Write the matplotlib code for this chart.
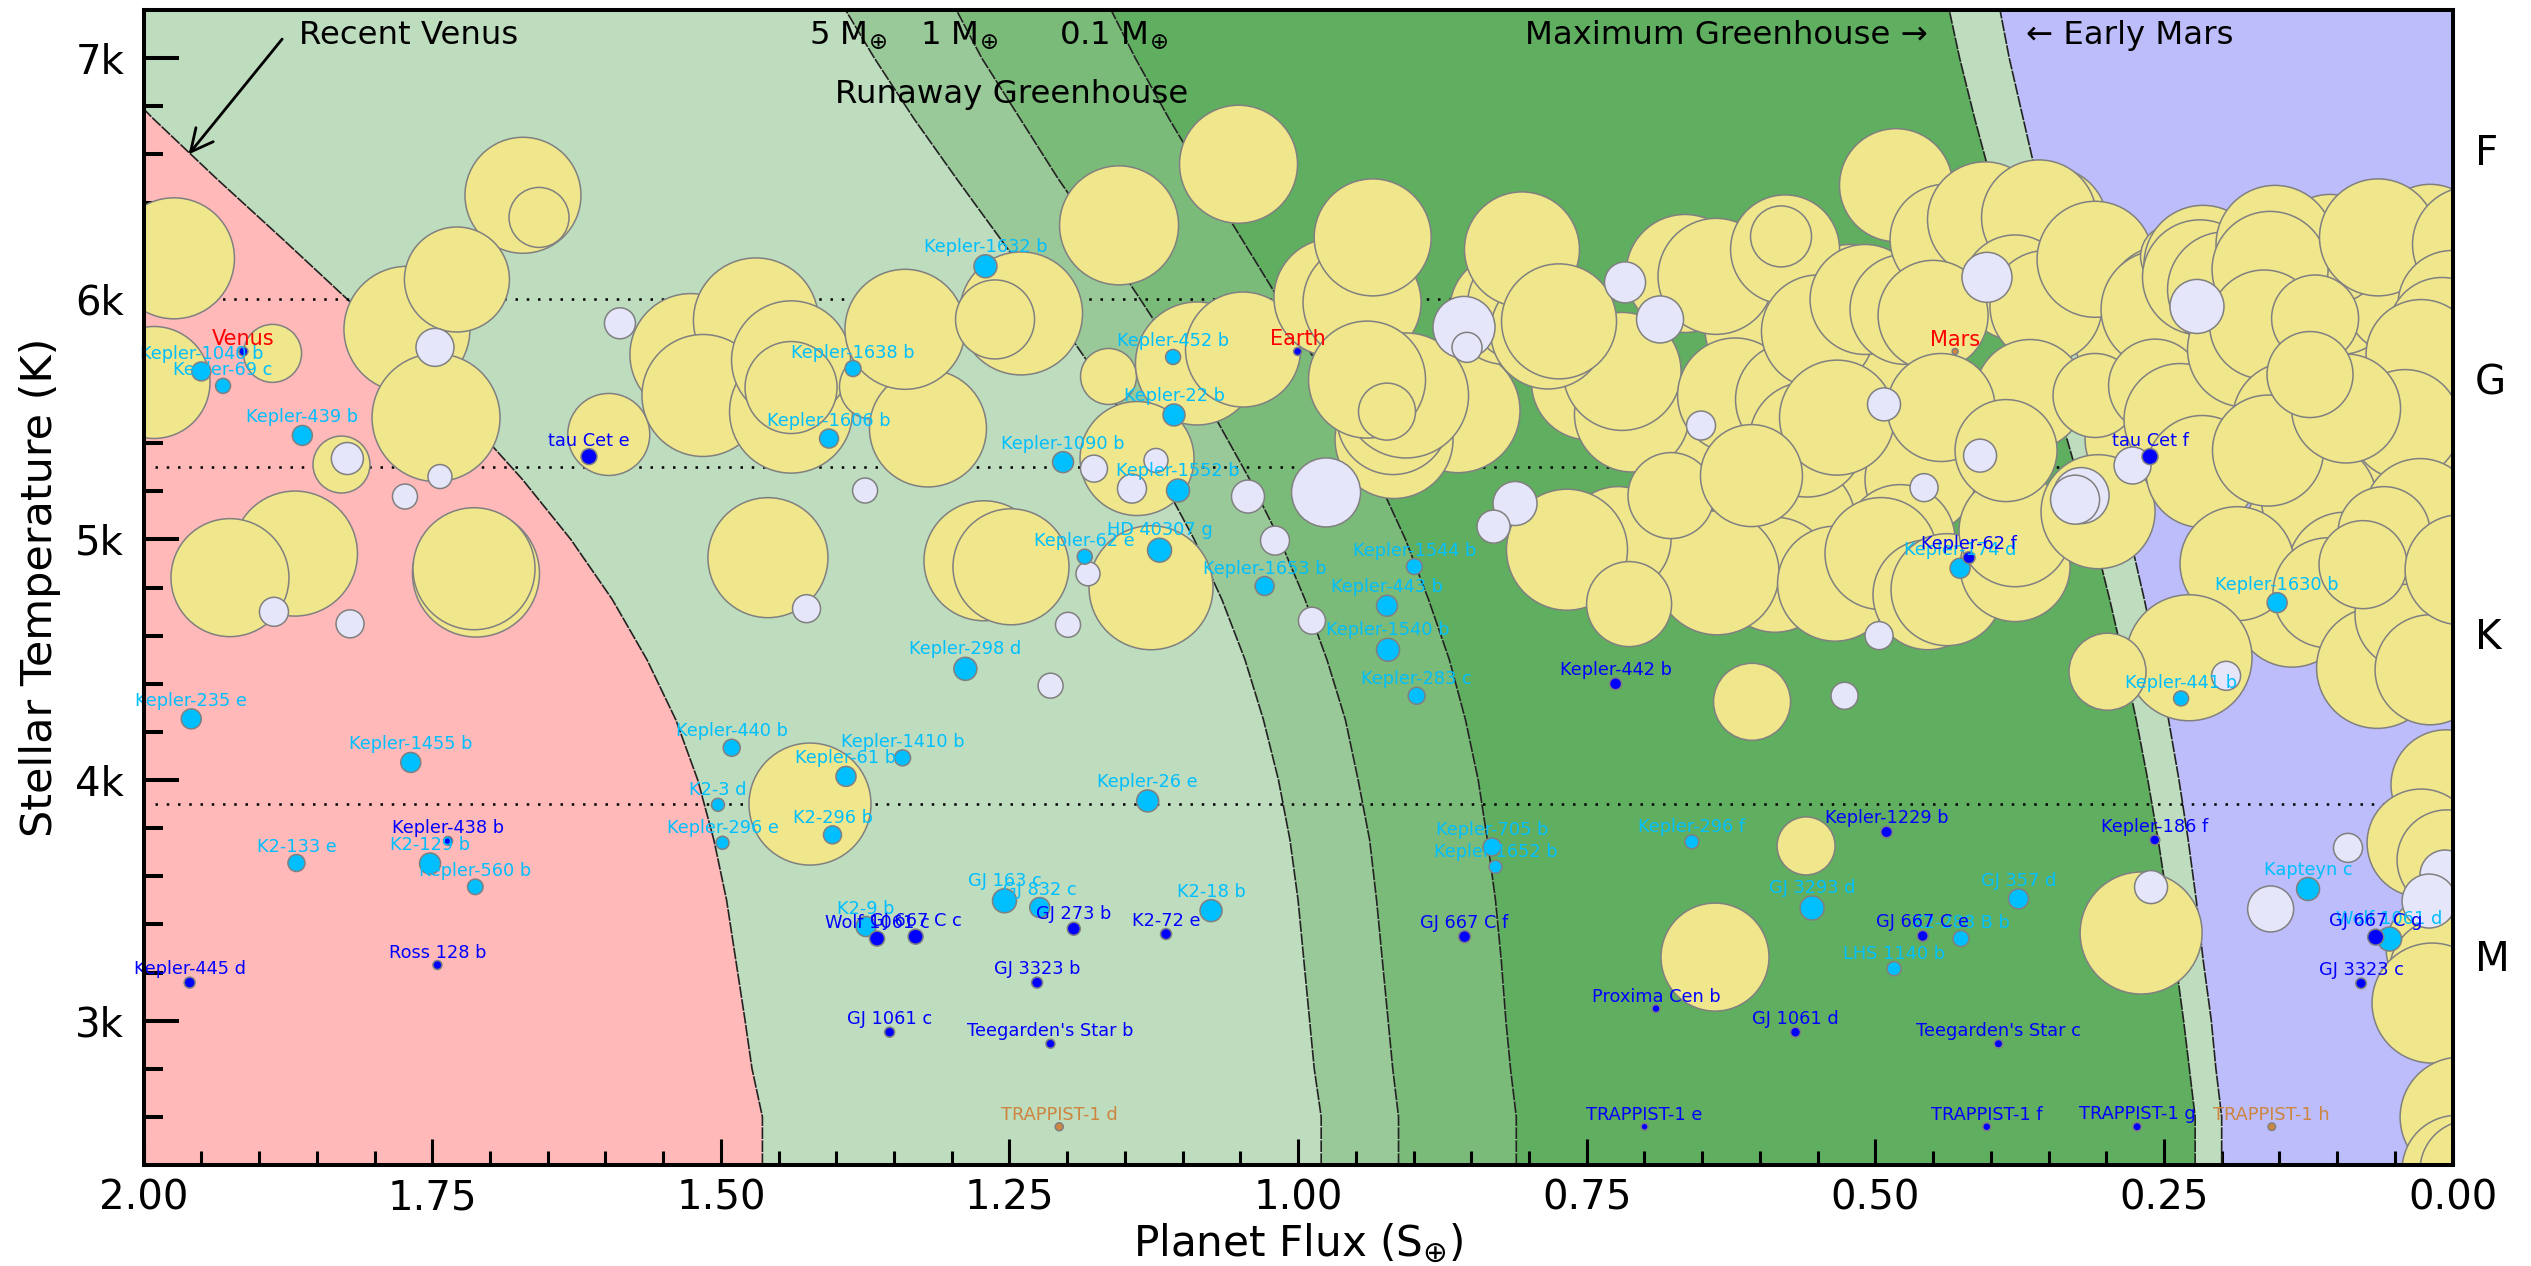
"""Habitable zone chart: planet flux against stellar temperature."""

import matplotlib

matplotlib.use("Agg")
import matplotlib.pyplot as plt

# Zone limits, flux at each stellar temperature
zone_temp = [2400, 2600, 2800, 3000, 3250, 3500, 3750, 4000, 4250, 4500, 4750,
             5000, 5250, 5500, 5750, 6000, 6250, 6500, 6750, 7000, 7200]
recent_venus = [1.464, 1.464, 1.473, 1.479, 1.487, 1.495, 1.506, 1.520, 1.539, 1.564, 1.594,
                1.630, 1.672, 1.719, 1.770, 1.824, 1.880, 1.937, 1.992, 2.043, 2.080]
runaway_5m = [0.980, 0.980, 0.986, 0.990, 0.995, 1.000, 1.007, 1.017, 1.030, 1.046, 1.066,
              1.090, 1.118, 1.149, 1.184, 1.220, 1.258, 1.296, 1.333, 1.367, 1.392]
runaway_1m = [0.913, 0.913, 0.918, 0.922, 0.927, 0.932, 0.938, 0.948, 0.959, 0.975, 0.994,
              1.016, 1.042, 1.071, 1.103, 1.137, 1.172, 1.208, 1.241, 1.274, 1.296]
runaway_01m = [0.811, 0.811, 0.816, 0.820, 0.824, 0.829, 0.836, 0.844, 0.855, 0.869, 0.887,
               0.907, 0.931, 0.957, 0.986, 1.017, 1.049, 1.081, 1.112, 1.141, 1.162]
max_greenhouse = [0.223, 0.223, 0.228, 0.233, 0.240, 0.247, 0.255, 0.264, 0.274, 0.285, 0.297,
                  0.310, 0.324, 0.339, 0.354, 0.370, 0.385, 0.400, 0.414, 0.427, 0.436]
early_mars = [0.200, 0.200, 0.205, 0.209, 0.216, 0.222, 0.229, 0.237, 0.246, 0.256, 0.267,
              0.279, 0.291, 0.305, 0.318, 0.332, 0.346, 0.360, 0.372, 0.384, 0.392]

spectral_temps = [5300, 3900, 6000]
spectral_names = ["F", "G", "K", "M"]
spectral_label_temps = [6600, 5648, 4591, 3251]

# Gas giants and other large planets, back to front
giant_flux = [
    0.0758, 0.0455, 0.0109, 0.0845, 0.0542, 0.0066, 0.1062, 0.0109, 0.0455,
    0.5999, 0.5219, 0.4786, 0.6345, 0.5826, 0.5219, 0.4613, 0.4786, 0.5652, 0.6519, 0.2707,
    0.2794, 0.2188, 0.1495, 0.0975, 0.0455, 0.0802, 0.1321, 0.0195, 0.0282, 0.1062, 0.0195,
    1.9737, 1.9910, 1.8883, 1.6714, 1.6575, 1.7719, 1.7286, 1.7467, 1.8286, 1.8689, 1.9252, 1.7121,
    1.7138, 1.5971, 1.5259, 1.4696, 1.5155, 1.4392, 1.4392, 1.4392, 1.3691, 1.3206, 1.3405, 1.2400,
    1.2625, 1.1551, 1.0516, 1.1642, 1.0876, 1.0477, 1.1395, 1.2721, 1.2487, 1.1274, 1.4592, 1.4228,
    0.9698, 0.9446, 0.9354, 0.8615, 0.9169, 0.9178, 0.9065, 0.9403, 0.9230, 0.8208, 0.8034, 0.7480,
    0.7108, 0.7194, 0.7835, 0.8061, 0.7740, 0.6649, 0.6380, 0.6215, 0.5713, 0.5782, 0.5817, 0.5497,
    0.5592, 0.5332, 0.5869, 0.6371, 0.7229, 0.7671, 0.6770, 0.6073, 0.7133, 0.5349, 0.6068, 0.5089,
    0.4743, 0.4821, 0.4396, 0.4050, 0.3487, 0.3582, 0.3790, 0.3522, 0.4500, 0.3660, 0.4431, 0.3097,
    0.4951, 0.4544, 0.4379, 0.3790, 0.3790, 0.3868, 0.3071, 0.3097, 0.2491, 0.2534, 0.2577, 0.2430,
    0.2162, 0.2188, 0.1971, 0.1538, 0.1581, 0.2361, 0.2170, 0.1798, 0.1633, 0.1408, 0.1157, 0.0932,
    0.1391, 0.1867, 0.1599, 0.1079, 0.2283, 0.2989, 0.0654, 0.0369, 0.0195, 0.0646, -0.0151, 0.0005,
    0.0091, 0.0273, 0.0412, 0.0455, 0.0282, 0.0594, 0.0776, 0.0923, 0.1191, 0.1235, -0.0065, -0.0021,
    0.0057, 0.0273, 0.0048, 0.0100, 0.0074, 0.0178, -0.0065, -0.0038, -0.0151, 0.2698, 0.5600, 0.6389,
]
giant_temp = [
    5831, 5665, 6039, 5498, 5249, 5249, 5873, 4999, 5290,
    5873, 5997, 5581, 5457, 5415, 5165, 5249, 4999, 5082, 5415, 5415,
    5831, 5706, 5789, 5997, 5997, 5249, 5041, 5498, 4749, 6205, 6247,
    6168, 5652, 5773, 6430, 6338, 5873, 6080, 5506, 5311, 4941, 4841, 4858,
    4878, 5436, 5768, 5910, 5598, 5531, 5744, 5631, 5635, 5461, 5873, 5939,
    5914, 6305, 6559, 5677, 5731, 5789, 5336, 4911, 4886, 4799, 4924, 3900,
    6005, 5985, 6255, 5535, 5415, 5502, 5598, 5664, 5531, 5956, 5976, 5652,
    5519, 5698, 5864, 6205, 5906, 6105, 6093, 5598, 5581, 6205, 6259, 5864,
    5415, 5506, 4853, 4861, 4999, 4957, 5182, 5265, 4731, 4816, 4325, 5997,
    5956, 6472, 6247, 6330, 6309, 6338, 6047, 5968, 5931, 5602, 5548, 6164,
    4941, 4770, 4791, 4887, 5036, 5369, 5115, 5598, 5976, 5956, 5639, 6176,
    6143, 6089, 6039, 6226, 6122, 5498, 5282, 5789, 5893, 5498, 5165, 4874,
    4708, 4899, 5369, 4778, 4508, 4450, 4466, 4687, 4458, 6255, 6226, 5976,
    5864, 5768, 5477, 5020, 5103, 5028, 4895, 5544, 5918, 5685, 4874, 3971,
    3980, 3738, 3668, 3302, 3198, 3073, 2599, 2378, 2378, 3364, 3726, 3264,
]
giant_radius = [
    11.0, 11.0, 11.0, 11.0, 11.0, 11.0, 11.0, 11.0, 11.0,
    11.0, 11.0, 11.0, 11.0, 11.0, 11.0, 11.0, 11.0, 11.0, 11.0, 11.0,
    11.0, 11.0, 11.0, 11.0, 11.0, 11.0, 11.0, 11.0, 11.0, 11.0, 11.0,
    12.1, 11.2, 5.8, 11.6, 6.0, 12.6, 10.5, 12.8, 5.7, 12.5, 11.8, 12.7,
    12.2, 8.2, 12.2, 12.5, 12.2, 12.3, 11.9, 9.2, 6.5, 11.7, 12.0, 12.3,
    7.9, 11.9, 11.8, 5.6, 12.3, 11.5, 11.4, 12.0, 11.6, 12.4, 12.0, 12.2,
    11.8, 11.8, 11.7, 12.4, 11.8, 11.2, 12.5, 11.7, 5.7, 11.0, 11.5, 11.5,
    11.5, 11.8, 11.5, 11.5, 11.5, 11.8, 11.6, 11.5, 11.5, 10.9, 6.1, 11.3,
    11.5, 11.5, 11.5, 12.4, 10.6, 12.1, 8.6, 10.2, 8.5, 11.5, 7.7, 11.0,
    11.0, 11.3, 11.0, 11.5, 11.5, 11.5, 10.5, 11.2, 11.0, 11.0, 10.8, 11.6,
    11.2, 11.0, 11.2, 11.0, 11.2, 10.2, 11.4, 8.4, 11.8, 11.8, 9.3, 6.3,
    11.8, 11.5, 11.5, 11.8, 11.6, 11.2, 11.2, 11.5, 10.9, 11.5, 11.5, 11.5,
    11.5, 11.4, 11.1, 11.0, 12.6, 7.7, 12.1, 11.0, 11.0, 11.7, 11.5, 10.8,
    10.8, 11.0, 11.0, 10.0, 11.2, 9.2, 8.8, 10.9, 8.7, 8.6, 11.0, 11.2,
    11.0, 10.8, 10.0, 11.0, 11.0, 12.0, 12.0, 11.0, 10.0, 12.2, 5.8, 10.8,
]

# Neptune sized planets
neptune_flux = [
    1.7476, 1.7433, 1.7736, 1.8235, 1.8871, 1.8212, 1.5874, 1.4258, 1.3751, 1.1768, 1.1439, 1.1231,
    1.1820, 1.1993, 1.2144, 1.0434, 1.0200, 0.9758, 0.9880, 0.8563, 0.8537, 0.7168, 0.6865, 0.8121,
    0.8307, 0.6510, 0.5267, 0.4925, 0.4968, 0.4033, 0.2214, 0.4093, 0.4578, 0.3218, 0.3270, 0.2772,
    0.1962, 0.0906, 0.1576, 0.2612, 0.0066, 0.0204,
]
neptune_temp = [
    5798, 5261, 5178, 5336, 4699, 4649, 5898, 4712, 5203, 5294, 5211, 5328,
    4857, 4645, 4392, 5178, 4995, 5195, 4662, 5881, 5798, 6068, 5914, 5149,
    5053, 5473, 4350, 5561, 4600, 6089, 5968, 5348, 5215, 5182, 5165, 5307,
    4433, 3718, 3464, 3555, 3605, 3497,
]
neptune_radius = [
    3.8, 2.4, 2.5, 3.2, 2.9, 2.8, 3.1, 2.8, 2.5, 2.7, 2.9, 2.4,
    2.4, 2.5, 2.5, 3.3, 2.9, 6.9, 2.7, 6.2, 3.0, 4.1, 4.7, 4.4,
    3.3, 2.9, 2.7, 3.3, 2.8, 5.0, 5.4, 3.3, 2.8, 5.6, 4.9, 3.7,
    2.9, 2.9, 4.6, 3.3, 5.0, 5.4,
]

# Named planets, superterran
super_names = [
    "Kepler-1040 b", "Kepler-69 c", "Kepler-439 b", "Kepler-1638 b", "Kepler-1606 b", "Kepler-1632 b",
    "Kepler-452 b", "Kepler-22 b", "Kepler-1090 b", "Kepler-1552 b", "HD 40307 g", "Kepler-62 e",
    "Kepler-1653 b", "Kepler-1544 b", "Kepler-443 b", "Kepler-1540 b", "Kepler-283 c", "Kepler-298 d",
    "Kepler-1410 b", "Kepler-61 b", "Kepler-440 b", "K2-3 d", "Kepler-296 e", "K2-296 b",
    "Kepler-235 e", "Kepler-1455 b", "K2-133 e", "K2-129 b", "Kepler-560 b", "Kepler-26 e",
    "GJ 163 c", "GJ 832 c", "K2-18 b", "K2-9 b", "Kepler-705 b", "Kepler-1652 b",
    "Kepler-296 f", "GJ 3293 d", "GJ 357 d", "LHS 1140 b", "K2-288 B b", "Kapteyn c",
    "Wolf 1061 d", "Kepler-441 b", "Kepler-1630 b", "Kepler-174 d",
]
super_flux = [
    1.950, 1.9312, 1.8625, 1.3855, 1.4063, 1.2708,
    1.1083, 1.1075, 1.2036, 1.1040, 1.1200, 1.1848,
    1.0290, 0.8993, 0.9230, 0.9221, 0.8973, 1.2882,
    1.3426, 1.3916, 1.4906, 1.5025, 1.4986, 1.4033,
    1.9587, 1.7686, 1.8676, 1.7519, 1.7127, 1.1303,
    1.2543, 1.2238, 1.0754, 1.3743, 0.8320, 0.8290,
    0.6590, 0.5548, 0.3760, 0.4838, 0.4258, 0.1252,
    0.0546, 0.2352, 0.1520, 0.4266,
]
super_temp = [
    5698, 5638, 5432, 5710, 5419, 6135,
    5758, 5517, 5321, 5203, 4955, 4928,
    4806, 4887, 4724, 4541, 4350, 4462,
    4092, 4015, 4134, 3897, 3739, 3772,
    4254, 4073, 3655, 3653, 3556, 3913,
    3498, 3470, 3457, 3391, 3722, 3639,
    3743, 3468, 3506, 3216, 3341, 3547,
    3339, 4339, 4737, 4880,
]
super_radius = [
    1.9, 1.5, 2.0, 1.6, 1.9, 2.3,
    1.5, 2.2, 2.1, 2.3, 2.4, 1.5,
    1.9, 1.6, 2.1, 2.3, 1.7, 2.3,
    1.6, 2.0, 1.7, 1.3, 1.3, 1.8,
    2.0, 2.0, 1.7, 2.1, 1.55, 2.2,
    2.4, 2.0, 2.2, 2.0, 1.8, 1.3,
    1.4, 2.4, 2.0, 1.4, 1.6, 2.3,
    2.4, 1.5, 2.0, 2.0,
]

# Named planets, terran
terran_names = [
    "tau Cet e", "tau Cet f", "Kepler-62 f", "Kepler-442 b", "Kepler-1229 b", "Kepler-186 f",
    "Kepler-438 b", "Ross 128 b", "Kepler-445 d", "GJ 1061 c", "GJ 3323 b", "Teegarden's Star b",
    "GJ 273 b", "K2-72 e", "Wolf 1061 c", "GJ 667 C c", "GJ 667 C f", "Proxima Cen b",
    "GJ 1061 d", "Teegarden's Star c", "GJ 667 C e", "GJ 667 C g", "GJ 3323 c",
    "TRAPPIST-1 e", "TRAPPIST-1 f", "TRAPPIST-1 g",
]
terran_flux = [
    1.6142, 0.2621, 0.4189, 0.7250, 0.4903, 0.2580,
    1.7363, 1.7455, 1.9601, 1.3538, 1.2261, 1.2145,
    1.1943, 1.1144, 1.3647, 1.3313, 0.8558, 0.6900,
    0.5692, 0.3934, 0.4590, 0.0666, 0.0793,
    0.6999, 0.4035, 0.2733,
]
terran_temp = [
    5344, 5344, 4924, 4400, 3784, 3751,
    3747, 3231, 3158, 2952, 3158, 2904,
    3382, 3360, 3341, 3349, 3349, 3050,
    2952, 2904, 3352, 3347, 3155,
    2559, 2559, 2559,
]
terran_radius = [
    1.6, 1.6, 1.2, 1.2, 1.15, 1.0,
    0.9, 0.9, 1.1, 1.0, 1.1, 0.9,
    1.3, 1.1, 1.5, 1.5, 1.2, 0.8,
    1.0, 0.85, 1.1, 1.6, 1.05,
    0.7, 0.8, 0.85,
]

# Named planets, small
small_names = ["TRAPPIST-1 d", "TRAPPIST-1 h"]
small_flux = [1.2069, 0.1566]
small_temp = [2559, 2559]
small_radius = [0.8, 0.75]

# Solar system
solar_names = ["Venus", "Earth", "Mars"]
solar_flux = [1.9136, 1.0004, 0.4309]
solar_temp = [5781, 5781, 5781]
solar_radius = [0.9, 0.8, 0.6]
solar_colors = ["#0000ff", "#0000ff", "#cd853f"]

DPI = 100
WIDTH, HEIGHT = 2531, 1266
PX_PER_RADIUS = 10.0
EDGE = "#808080"


def marker_area(radius):
    """Scatter area in points^2 for a planet radius."""
    return [(r * PX_PER_RADIUS * 72 / DPI) ** 2 for r in radius]


def draw_planets(ax, flux, temp, radius, color, zorder):
    ax.scatter(flux, temp, s=marker_area(radius), c=color, edgecolors=EDGE, linewidths=1.1, zorder=zorder)


def label_planets(ax, names, flux, temp, radius, color, fontsize=12.8):
    for name, x, y, r in zip(names, flux, temp, radius):
        offset = (r * PX_PER_RADIUS / 2 + 8) * 72 / DPI
        ax.annotate(name, (x, y), xytext=(0, offset), textcoords="offset points",
                    ha="center", va="center", fontsize=fontsize, color=color, zorder=10)


def main():
    fig = plt.figure(figsize=(WIDTH / DPI, HEIGHT / DPI), dpi=DPI, facecolor="white")
    ax = fig.add_axes([143.6 / WIDTH, 1 - 1165 / HEIGHT, 2309 / WIDTH, 1155 / HEIGHT])

    # Zones
    left_edge = [2.1] * len(zone_temp)
    right_edge = [0.0] * len(zone_temp)
    ax.fill_betweenx(zone_temp, left_edge, recent_venus, color="#ffb9b9", lw=0, zorder=1)
    ax.fill_betweenx(zone_temp, recent_venus, runaway_5m, color="#bedcbe", lw=0, zorder=1)
    ax.fill_betweenx(zone_temp, runaway_5m, runaway_1m, color="#99c999", lw=0, zorder=1)
    ax.fill_betweenx(zone_temp, runaway_1m, runaway_01m, color="#7abb7a", lw=0, zorder=1)
    ax.fill_betweenx(zone_temp, runaway_01m, max_greenhouse, color="#60ae60", lw=0, zorder=1)
    ax.fill_betweenx(zone_temp, max_greenhouse, early_mars, color="#bedcbe", lw=0, zorder=1)
    ax.fill_betweenx(zone_temp, early_mars, right_edge, color="#bdbdfb", lw=0, zorder=1)

    for limit in [recent_venus, runaway_5m, runaway_1m, runaway_01m, max_greenhouse, early_mars]:
        ax.plot(limit, zone_temp, color="#222222", lw=1.2, ls=(0, (7, 0.8)), zorder=2)

    for temp in spectral_temps:
        ax.plot([1.99, 0.0], [temp, temp], color="black", lw=1.8, ls=(0, (1, 3.5)), zorder=2)

    # Planets
    draw_planets(ax, giant_flux, giant_temp, giant_radius, "#f0e68c", 3)
    draw_planets(ax, neptune_flux, neptune_temp, neptune_radius, "#e6e6fa", 4)
    draw_planets(ax, super_flux, super_temp, super_radius, "#00bfff", 5)
    draw_planets(ax, terran_flux, terran_temp, terran_radius, "#0000ff", 6)
    draw_planets(ax, small_flux, small_temp, small_radius, "#cd853f", 6)
    draw_planets(ax, solar_flux, solar_temp, solar_radius, solar_colors, 6)

    label_planets(ax, super_names, super_flux, super_temp, super_radius, "#00bfff")
    label_planets(ax, terran_names, terran_flux, terran_temp, terran_radius, "#0000ff")
    label_planets(ax, small_names, small_flux, small_temp, small_radius, "#cd853f")
    label_planets(ax, solar_names, solar_flux, solar_temp, solar_radius, "#ff0000", fontsize=15)

    # Zone names
    ax.text(1.8654, 7096, "Recent Venus", fontsize=23.3, va="center", zorder=11)
    ax.text(1.424, 7096, r"5 M$_{\oplus}$", fontsize=23.3, va="center", zorder=11)
    ax.text(1.3275, 7096, r"1 M$_{\oplus}$", fontsize=23.3, va="center", zorder=11)
    ax.text(1.2075, 7096, r"0.1 M$_{\oplus}$", fontsize=23.3, va="center", zorder=11)
    ax.text(1.4015, 6850, "Runaway Greenhouse", fontsize=23.3, va="center", zorder=11)
    ax.text(0.8031, 7096, "Maximum Greenhouse \u2192", fontsize=23.3, va="center", zorder=11)
    ax.text(0.3695, 7096, "\u2190 Early Mars", fontsize=23.3, va="center", zorder=11)
    ax.annotate("", xy=(1.961, 6600), xytext=(1.880, 7079), zorder=11,
                arrowprops=dict(arrowstyle="->", lw=2, color="black", mutation_scale=40,
                                shrinkA=0, shrinkB=0))

    for name, temp in zip(spectral_names, spectral_label_temps):
        ax.text(-0.019, temp, name, fontsize=29, va="center", ha="left", clip_on=False)

    ax.set_xlim(2.0, 0.0)
    ax.set_ylim(2400, 7200)
    ax.set_xticks([2.0, 1.75, 1.5, 1.25, 1.0, 0.75, 0.5, 0.25, 0.0])
    ax.set_xticklabels(["2.00", "1.75", "1.50", "1.25", "1.00", "0.75", "0.50", "0.25", "0.00"])
    ax.set_xticks([x / 100 for x in range(0, 200, 5)], minor=True)
    ax.set_yticks([3000, 4000, 5000, 6000, 7000])
    ax.set_yticklabels(["3k", "4k", "5k", "6k", "7k"])
    ax.set_yticks(list(range(2600, 7200, 200)), minor=True)

    ax.tick_params(axis="x", which="major", direction="in", length=18.7, width=2.2, labelsize=29, pad=10)
    ax.tick_params(axis="x", which="minor", direction="in", length=10, width=2.2)
    ax.tick_params(axis="y", which="major", direction="in", length=25, width=2.9, labelsize=29, pad=14)
    ax.tick_params(axis="y", which="minor", direction="in", length=14, width=2.9)
    for spine in ax.spines.values():
        spine.set_linewidth(2.9)
        spine.set_zorder(12)

    ax.set_xlabel(r"Planet Flux (S$_{\oplus}$)", fontsize=30.3, labelpad=2)
    ax.set_ylabel("Stellar Temperature (K)", fontsize=31, labelpad=10)

    fig.savefig("out.png", dpi=DPI, facecolor="white")
    plt.close(fig)


if __name__ == "__main__":
    main()
